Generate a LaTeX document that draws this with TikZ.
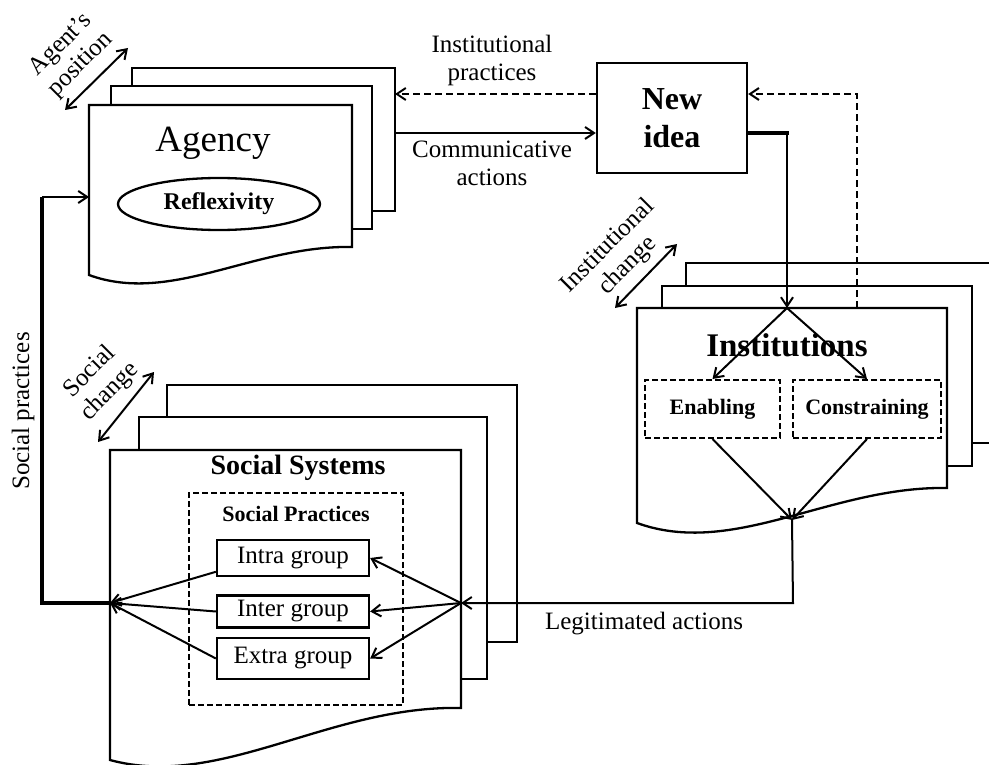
\documentclass[tikz,border=0pt]{standalone}
\usepackage{fontspec}
\setmainfont{Liberation Serif}
\usetikzlibrary{arrows.meta,calc,shapes.geometric}
\begin{document}
\begin{tikzpicture}[x=1pt,y=-1pt,
  box/.style={draw, fill=white, line width=2.3pt},
  arr/.style={-{Straight Barb[length=9pt,width=12pt,line width=2pt]}, line width=2pt},
  darr/.style={{Straight Barb[length=9pt,width=12pt,line width=2pt]}-{Straight Barb[length=9pt,width=12pt,line width=2pt]}, line width=2pt},
  dsh/.style={dash pattern=on 7pt off 4pt},
  thickline/.style={line width=4.5pt},
  lbl/.style={font=\fontsize{25}{28}\selectfont, align=center, inner sep=0pt},
  dbox/.style={draw, line width=2pt, dash pattern=on 6pt off 3pt, inner sep=0pt, font=\bfseries\fontsize{22}{24}\selectfont},
  grp/.style={draw, fill=white, line width=2.3pt, minimum width=152pt, inner sep=0pt, font=\fontsize{25}{27}\selectfont}
]
\useasboundingbox (0,0) rectangle (989,765);

% ---------- Agency stack ----------
\draw[box] (132,68) rectangle (395,211);
\draw[box] (111,86) rectangle (372,229);
\draw[box] (89,105) -- (352,105) -- (352,247) .. controls (254,245) and (171,305) .. (89,275) -- cycle;
\node[font=\fontsize{37}{40}\selectfont, inner sep=0pt] (agency) at (213,143) {Agency};
\node[draw, ellipse, line width=2.3pt, minimum width=202pt, minimum height=52pt, inner sep=0pt,
      font=\bfseries\fontsize{24}{26}\selectfont] (refl) at (219,204) {Reflexivity};

\coordinate (agprac) at (395,94);
\coordinate (agcom) at (395,133);
\coordinate (agin) at (89,197);

% ---------- New idea ----------
\node[box, minimum width=150pt, minimum height=110pt, inner sep=0pt, align=center,
      font=\bfseries\fontsize{32}{38}\selectfont] (newidea) at (672,118) {New\\idea};

% ---------- Institutions stack ----------
\path[fill=white] (686,263) rectangle (989,443);
\draw[line width=2.3pt] (989,263) -- (686,263) -- (686,443) -- (989,443);
\draw[box] (662,286) rectangle (972,466);
\draw[box] (637,308) -- (947,308) -- (947,488) .. controls (831,486) and (734,558) .. (637,523) -- cycle;
\node[font=\bfseries\fontsize{33}{36}\selectfont, inner sep=0pt] (inst) at (787,345) {Institutions};
\node[dbox, minimum width=135pt, minimum height=58pt] (enab) at (712.5,409) {Enabling};
\node[dbox, minimum width=148pt, minimum height=58pt] (cons) at (867,409) {Constraining};

\coordinate (insttop) at (787,308);
\coordinate (instdash) at (857,308);
\coordinate (instbot) at (792,520);

% ---------- Social systems stack ----------
\draw[box] (167,385) rectangle (517,642);
\draw[box] (139,417) rectangle (487,679);
\draw[box] (110,450) -- (461,450) -- (461,708) .. controls (330,705) and (220,790) .. (110,760) -- cycle;
\node[font=\bfseries\fontsize{28}{30}\selectfont, inner sep=0pt] (ss) at (298,468) {Social Systems};
\node[draw, line width=2pt, dash pattern=on 6pt off 3pt, minimum width=214pt, minimum height=212pt] (spbox) at (296,599) {};
\node[font=\bfseries\fontsize{22}{24}\selectfont, inner sep=0pt] (sptitle) at (296,514) {Social Practices};
\node[grp, minimum height=36pt] (intra) at (293,558) {Intra group};
\node[grp, minimum height=32pt] (inter) at (293,611.5) {Inter group};
\node[grp, minimum height=41pt] (extra) at (293,658.5) {Extra group};

\coordinate (ssL) at (110,603);
\coordinate (ssR) at (461,603);

% ---------- Labels ----------
\node[lbl] (lip) at (492,60) {Institutional\\practices};
\node[lbl] (lca) at (492,163) {Communicative\\actions};
\node[lbl] (lla) at (644,624) {Legitimated actions};
\node[lbl, rotate=90] (lsp) at (23,411) {Social practices};
\node[lbl, rotate=45] (lap) at (71,55) {Agent’s\\position};
\node[lbl, rotate=45] (lsc) at (100,382) {Social\\change};
\node[lbl, rotate=45] (lic) at (618,256) {Institutional\\change};

% ---------- Double arrows ----------
\coordinate (apA) at (65,110); \coordinate (apB) at (128,48);
\coordinate (scA) at (98,442); \coordinate (scB) at (154,372);
\coordinate (icA) at (615,308); \coordinate (icB) at (677,244);
\draw[darr] (apA) -- (apB);
\draw[darr] (scA) -- (scB);
\draw[darr] (icA) -- (icB);

% ---------- Connectors ----------
\draw[arr] (agcom) -- (newidea.west |- agcom);
\draw[arr, dsh] (newidea.west |- agprac) -- (agprac);
\coordinate (dashcorner) at (857,94);
\draw[arr, dsh] (instdash) -- (dashcorner) -- (newidea.east |- dashcorner);
\coordinate (thickcorner) at (787,133);
\draw[thickline] (newidea.east |- thickcorner) -- ($(thickcorner)+(1.5,0)$);
\draw[arr] (thickcorner) -- (insttop);
\draw[arr] (insttop) -- (enab.north);
\draw[arr] (insttop) -- (cons.north);
\draw[arr] (enab.south) -- (instbot);
\draw[arr] (cons.south) -- (instbot);
\coordinate (legcorner) at (793,603);
\draw[arr] (instbot) -- (legcorner) -- (ssR);
\draw[arr] (ssR) -- (intra.east);
\draw[arr] (ssR) -- (inter.east);
\draw[arr] (ssR) -- (extra.east);
\draw[arr] ($(intra.west)!0.72!(intra.south west)$) -- (ssL);
\draw[arr] (inter.west) -- (ssL);
\draw[arr] (extra.west) -- (ssL);
\coordinate (spB) at (42,603);
\coordinate (spT) at (42,197);
\draw[thickline] (ssL) -- (spB) -- (spT);
\draw[arr] (spT) -- (agin);
\end{tikzpicture}
\end{document}
